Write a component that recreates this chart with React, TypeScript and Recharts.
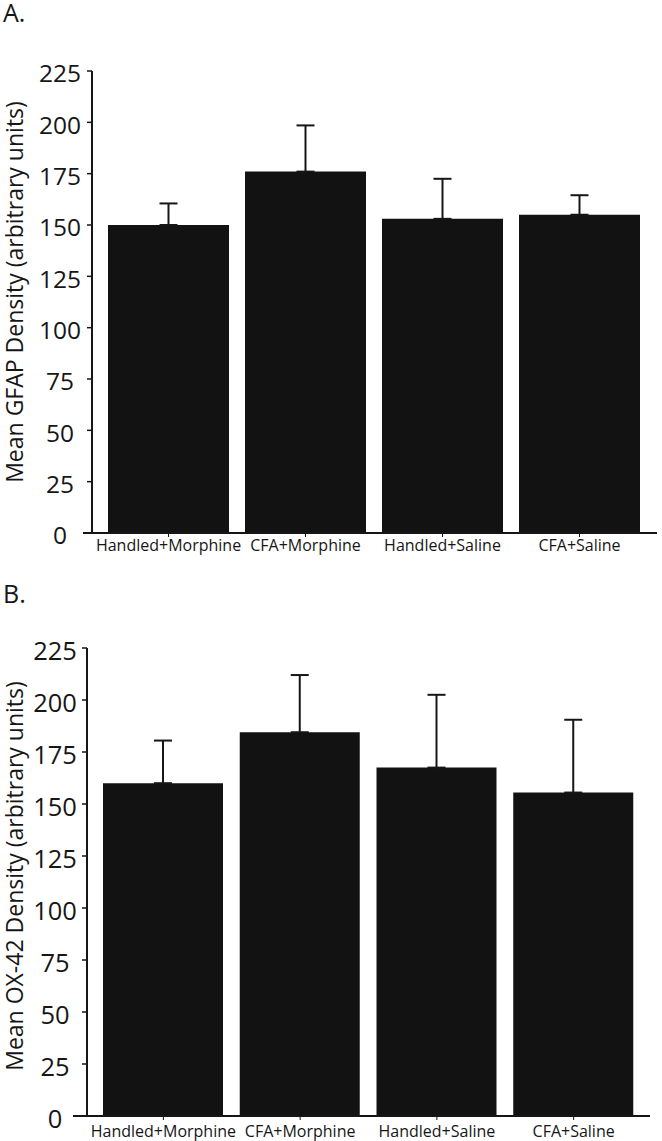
import { BarChart, Bar, XAxis, YAxis, ErrorBar, ReferenceLine, Label } from "recharts";

const GROUPS = ["Handled+Morphine", "CFA+Morphine", "Handled+Saline", "CFA+Saline"];

// panel A: GFAP
const GFAP_MEAN = [150, 176, 153, 155];
const GFAP_SEM = [10.5, 22.5, 19.5, 9.5];

// panel B: OX-42
const OX42_MEAN = [160, 184.5, 167.5, 155.5];
const OX42_SEM = [20.5, 27.5, 35, 35];

const Y_TICKS = [0, 25, 50, 75, 100, 125, 150, 175, 200, 225];

const FONT = "'Open Sans', 'DejaVu Sans', sans-serif";
const INK = "#161616";

const buildRows = (means: number[], sems: number[]) =>
  GROUPS.map((g, i) => ({ group: g, mean: means[i], err: [0, sems[i]] }));

// tick labels in the original are centred in the gutter, not right aligned
function YTick({ x, y, payload, size, shift }: any) {
  return (
    <text x={x} y={y + shift} dy="0.355em" textAnchor="middle" fontSize={size} fontFamily={FONT} fill={INK}>
      {payload.value}
    </text>
  );
}

function XTick({ x, y, payload, size }: any) {
  return (
    <text x={x} y={y} dy="0.71em" textAnchor="middle" fontSize={size} fontFamily={FONT} fill={INK}>
      {payload.value}
    </text>
  );
}

function Panel(props: any) {
  const { letter, top, height, xHeight, marginTop, marginRight, yWidth, pad, barSize, stub,
    tickFont, catFont, tickMargin, yTickMargin, shift, title, titleX, titleDy, rows } = props;
  const plotMid = marginTop + (height - xHeight - marginTop) / 2;
  return (
    <div style={{ position: "absolute", left: 0, top, width: 662, height }}>
      <div style={{ position: "absolute", left: 3, top: 0, fontFamily: FONT, fontSize: 25, lineHeight: "25px", color: INK }}>
        {letter}
      </div>
      <BarChart width={662} height={height} data={rows}
        margin={{ top: marginTop, right: marginRight, bottom: 0, left: 0 }}>
        <XAxis dataKey="group" height={xHeight} axisLine={false} tickSize={4} tickMargin={tickMargin}
          tickLine={{ stroke: INK, strokeWidth: 1 }} padding={pad} interval={0}
          tick={<XTick size={catFont} />} />
        <YAxis width={yWidth} domain={[0, 225]} ticks={Y_TICKS} interval={0} tickSize={5} tickMargin={yTickMargin}
          axisLine={{ stroke: INK, strokeWidth: 2 }} tickLine={{ stroke: INK, strokeWidth: 1.5 }}
          tick={<YTick size={tickFont} shift={shift} />}>
          <Label content={() => {
            const cy = plotMid + titleDy;
            return (
              <text x={titleX} y={cy} transform={`rotate(-90 ${titleX} ${cy})`} textAnchor="middle"
                fontSize={23} fontFamily={FONT} fill={INK}>
                {title}
              </text>
            );
          }} />
        </YAxis>
        <Bar dataKey="mean" fill="#121212" barSize={barSize} isAnimationActive={false}>
          <ErrorBar dataKey="err" width={9} strokeWidth={2} stroke={INK} isAnimationActive={false} />
        </Bar>
        <ReferenceLine y={0} shape={(p: any) => (
          <line x1={p.x1 - stub} y1={p.y1} x2={p.x2} y2={p.y2} stroke={INK} strokeWidth={2} />
        )} />
      </BarChart>
    </div>
  );
}

export default function App() {
  return (
    <div style={{ position: "absolute", left: 0, top: 0, width: 662, height: 1141, background: "#fff" }}>
      <Panel letter="A." top={0} height={563} xHeight={30} marginTop={71} marginRight={5} yWidth={92}
        pad={{ left: 8, right: 9 }} barSize={121} stub={9} tickFont={24.5} catFont={16}
        tickMargin={3} yTickMargin={27} shift={2.5} title="Mean GFAP Density (arbitrary units)"
        titleX={23} titleDy={-10} rows={buildRows(GFAP_MEAN, GFAP_SEM)} />
      <Panel letter="B." top={581} height={560} xHeight={25} marginTop={67} marginRight={12} yWidth={87}
        pad={{ left: 8, right: 8 }} barSize={120} stub={14} tickFont={25.5} catFont={16}
        tickMargin={6} yTickMargin={27} shift={2.5} title="Mean OX-42 Density (arbitrary units)"
        titleX={23} titleDy={-6} rows={buildRows(OX42_MEAN, OX42_SEM)} />
    </div>
  );
}
